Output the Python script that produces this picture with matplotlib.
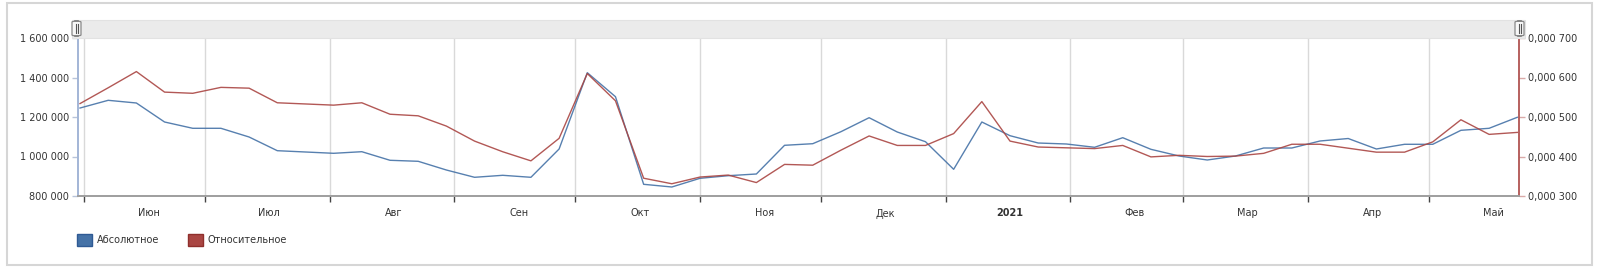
import matplotlib
matplotlib.use("Agg")
import matplotlib.pyplot as plt
import matplotlib.dates as mdates
from matplotlib.patches import Rectangle, FancyBboxPatch, Patch
from matplotlib.ticker import FuncFormatter, FixedLocator
import pandas as pd

# weekly series, 31 May 2020 .. 23 May 2021
weeks = pd.date_range("2020-05-31", periods=52, freq="7D")

absolute = [1245500, 1284500, 1270900, 1174700, 1142800, 1142800, 1098700, 1029400,
            1022800, 1016200, 1024300, 980800, 975700, 931600, 894700, 904800,
            894700, 1038000, 1424300, 1302800, 859200, 845600, 889600, 902800,
            911400, 1056700, 1064800, 1125500, 1196400, 1124000, 1074900, 935200,
            1174700, 1105300, 1068300, 1063300, 1046600, 1095200, 1036400, 1002500,
            982300, 1002500, 1043000, 1043000, 1078500, 1091100, 1038000, 1061800,
            1061800, 1132600, 1142800, 1198500]

relative = [0.000534, 0.000574, 0.000615, 0.000563, 0.000560, 0.000575, 0.000573, 0.000536,
            0.000533, 0.000530, 0.000536, 0.000507, 0.000503, 0.000477, 0.000439, 0.000412,
            0.000389, 0.000446, 0.000610, 0.000541, 0.000345, 0.000331, 0.000348, 0.000353,
            0.000334, 0.000380, 0.000378, 0.000416, 0.000452, 0.000428, 0.000428, 0.000458,
            0.000539, 0.000439, 0.000424, 0.000422, 0.000420, 0.000428, 0.000399, 0.000403,
            0.000400, 0.000401, 0.000408, 0.000431, 0.000431, 0.000421, 0.000411, 0.000411,
            0.000437, 0.000493, 0.000456, 0.000461]

month_starts = pd.date_range("2020-06-01", periods=12, freq="MS")
month_labels = ["Июн", "Июл", "Авг", "Сен", "Окт", "Ноя", "Дек", "2021", "Фев", "Мар", "Апр", "Май"]

left_ticks = [800000, 1000000, 1200000, 1400000, 1600000]
right_ticks = [0.0003, 0.0004, 0.0005, 0.0006, 0.0007]

BLUE = "#4572A7"
RED = "#AA4643"
W, H = 1600, 267

fig = plt.figure(figsize=(16, 2.67), dpi=100)
ax = fig.add_axes([77.5 / W, 1 - 196 / H, (1519.3 - 77.5) / W, 158 / H])
ax2 = ax.twinx()

ax.plot(weeks, absolute, color=BLUE, lw=1.0, alpha=0.9, zorder=3)
ax2.plot(weeks, relative, color=RED, lw=1.0, alpha=0.9, zorder=3)

ax.set_xlim(weeks[0] - pd.Timedelta(hours=15), weeks[-1] + pd.Timedelta(hours=12))
ax.set_ylim(800000, 1600000)
ax2.set_ylim(0.0003, 0.0007)

ax.set_yticks(left_ticks)
ax.yaxis.set_major_formatter(FuncFormatter(lambda v, p: "{:,.0f}".format(v).replace(",", " ")))


def rel_fmt(v, p):
    ip, dp = "{:.6f}".format(v).split(".")
    return ip + "," + dp[:3] + " " + dp[3:]


ax2.set_yticks(right_ticks)
ax2.yaxis.set_major_formatter(FuncFormatter(rel_fmt))

# month boundaries: grid + ticks, labels in the middle
ax.xaxis.set_major_locator(FixedLocator(mdates.date2num(month_starts)))
ax.xaxis.set_major_formatter(FuncFormatter(lambda v, p: ""))
label_pos = mdates.date2num(month_starts + pd.Timedelta(days=16))
ax.set_xticks(label_pos, minor=True)
ax.set_xticklabels(month_labels, minor=True)
for t in ax.get_xticklabels(minor=True):
    if t.get_text() == "2021":
        t.set_fontweight("bold")

ax.grid(axis="x", which="major", color="#d9d9d9", lw=1)
ax.tick_params(axis="x", which="major", length=4, width=1, color="#444444")
ax.tick_params(axis="x", which="minor", length=0, pad=9, labelsize=7, labelcolor="#333333")
ax.tick_params(axis="y", length=4, width=1, color="#b8c4da", labelsize=7, labelcolor="#333333", pad=2)
ax2.tick_params(axis="y", length=4, width=1, color="#d9a9a8", labelsize=7, labelcolor="#333333", pad=2)

for a in (ax, ax2):
    a.spines["top"].set_visible(False)
    a.spines["bottom"].set_color("#a0a0a0")
    a.spines["bottom"].set_linewidth(1.4)
ax.spines["right"].set_visible(False)
ax.spines["left"].set_color("#a3b6d6")
ax.spines["left"].set_linewidth(1.4)
ax2.spines["left"].set_visible(False)
ax2.spines["right"].set_color(RED)
ax2.spines["right"].set_linewidth(1.2)

# outer frame
fig.add_artist(Rectangle((7 / W, 1 - 265 / H), 1585 / W, 262 / H, transform=fig.transFigure,
                         facecolor="none", edgecolor="#d6d6d6", lw=1.5))

# navigator bar on top
fig.add_artist(Rectangle((72 / W, 1 - 38 / H), (1525 - 72) / W, 18 / H, transform=fig.transFigure,
                         facecolor="#ebebeb", edgecolor="#e2e2e2", lw=0.8))
for hx in (72, 1515):
    fig.add_artist(FancyBboxPatch((hx / W, 1 - 36 / H), 9 / W, 15 / H, transform=fig.transFigure,
                                  boxstyle="round,pad=0,rounding_size=0.004",
                                  facecolor="#f7f7f7", edgecolor="#888888", lw=0.9))
    for dx in (3.5, 5.5):
        fig.add_artist(plt.Line2D([(hx + dx) / W] * 2, [1 - 33 / H, 1 - 24 / H],
                                  transform=fig.transFigure, color="#555555", lw=0.8))

handles = [Patch(facecolor=BLUE, edgecolor="#2f5a94", label="Абсолютное"),
           Patch(facecolor=RED, edgecolor="#8f2f2c", label="Относительное")]
fig.legend(handles=handles, loc="center left", bbox_to_anchor=(77 / W, 1 - 240 / H),
           ncol=2, frameon=False, fontsize=7, handlelength=1.55, handleheight=1.55,
           handletextpad=0.45, columnspacing=3.0, borderpad=0, borderaxespad=0,
           labelcolor="#333333")

fig.savefig("out.png", dpi=100)
